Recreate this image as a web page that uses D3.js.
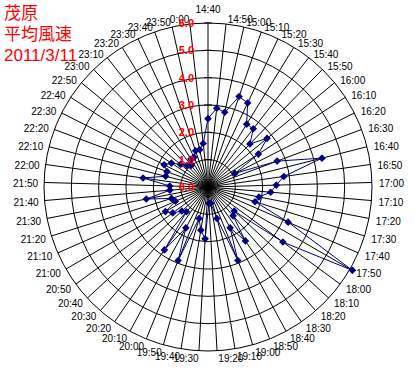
<!DOCTYPE html>
<html>
<head>
<meta charset="utf-8">
<script src="https://cdn.jsdelivr.net/npm/d3@7"></script>
<style>
  body { margin: 0; background: #fff; }
  svg { display: block; }
</style>
</head>
<body>
<div id="chart"></div>
<script>
// 10分ごとの時刻ラベル (14:40 → 0:00)
const times = [
  "14:40","14:50","15:00","15:10","15:20","15:30","15:40","15:50",
  "16:00","16:10","16:20","16:30","16:40","16:50","17:00","17:10",
  "17:20","17:30","17:40","17:50","18:00","18:10","18:20","18:30",
  "18:40","18:50","19:00","19:10","19:20","19:30","19:40","19:50",
  "20:00","20:10","20:20","20:30","20:40","20:50","21:00","21:10",
  "21:20","21:30","21:40","21:50","22:00","22:10","22:20","22:30",
  "22:40","22:50","23:00","23:10","23:20","23:30","23:40","23:50","0:00"
];
// 平均風速 (m/s)
const windSpeed = [
  2.5, 2.9, 2.8, 3.5, 3.4, 2.7, 2.7, 2.2,
  2.8, 2.2, 1.1, 2.7, 4.3, 2.8, 2.5, 2.3,
  1.9, 1.8, 3.2, 6.1, 3.4, 1.3, 1.4, 2.4,
  1.7, 2.9, 1.2, 0.6, 0.6, 1.9, 1.6, 1.2,
  2.9, 1.7, 2.8, 1.2, 1.3, 1.6, 1.8, 1.3,
  1.4, 2.3, 1.4, 1.4, 2.4, 1.6, 1.6, 1.8,
  1.6, 1.3, 1.1, 1.0, 1.2, 1.2, 1.4, 1.4, 1.6
];
const ringTicks = [0, 1, 2, 3, 4, 5, 6];
const titleLines = ["茂原", "平均風速", "2011/3/11"];

const width = 415, height = 370;
const cx = 208, cy = 187, R = 164;

const svg = d3.select("#chart").append("svg")
    .attr("width", width)
    .attr("height", height);

const r = d3.scaleLinear().domain([0, 6]).range([0, R]);
const angle = d3.scaleLinear().domain([0, times.length]).range([0, 2 * Math.PI]);

const g = svg.append("g").attr("transform", `translate(${cx},${cy})`);

// 放射線
g.selectAll("line.spoke")
  .data(times)
  .enter().append("line")
    .attr("class", "spoke")
    .attr("x1", 0).attr("y1", 0)
    .attr("x2", (d, i) => R * Math.sin(angle(i)))
    .attr("y2", (d, i) => -R * Math.cos(angle(i)))
    .attr("stroke", "#000")
    .attr("stroke-width", 1);

// 同心円
g.selectAll("circle.ring")
  .data(ringTicks.slice(1))
  .enter().append("circle")
    .attr("class", "ring")
    .attr("r", d => r(d))
    .attr("fill", "none")
    .attr("stroke", "#000")
    .attr("stroke-width", 1);

// 目盛り (十字)
g.selectAll("line.tick")
  .data(ringTicks.slice(1))
  .enter().append("line")
    .attr("x1", -4).attr("x2", 4)
    .attr("y1", d => -r(d)).attr("y2", d => -r(d))
    .attr("stroke", "#000");

// 時刻ラベル
g.selectAll("text.cat")
  .data(times)
  .enter().append("text")
    .attr("class", "cat")
    .each(function(d, i) {
      const a = angle(i), s = Math.sin(a), c = Math.cos(a);
      const t = d3.select(this);
      if (Math.abs(s) < 0.02) {
        t.attr("x", 0).attr("y", -R - 10).attr("text-anchor", "middle");
      } else {
        t.attr("x", (R + 6) * s + (s > 0 ? 1 : 0))
         .attr("y", -(R + 6) * c + 5)
         .attr("text-anchor", s > 0 ? "start" : "end");
      }
    })
    .attr("font-family", "Liberation Sans, Arial, sans-serif")
    .attr("font-size", 10)
    .attr("fill", "#000")
    .text(d => d);

// データ線
const line = d3.lineRadial()
    .angle((d, i) => angle(i))
    .radius(d => r(d))
    .curve(d3.curveLinearClosed);

g.append("path")
    .datum(windSpeed)
    .attr("d", line)
    .attr("fill", "none")
    .attr("stroke", "#000080")
    .attr("stroke-width", 1);

// ひし形マーカー
g.selectAll("path.mark")
  .data(windSpeed)
  .enter().append("path")
    .attr("class", "mark")
    .attr("transform", (d, i) =>
      `translate(${r(d) * Math.sin(angle(i))},${-r(d) * Math.cos(angle(i))})`)
    .attr("d", "M0,-3.8L3.8,0L0,3.8L-3.8,0Z")
    .attr("fill", "#000080");

// 目盛りラベル
g.selectAll("text.ring")
  .data(ringTicks)
  .enter().append("text")
    .attr("x", -14)
    .attr("y", d => -r(d) + 4)
    .attr("text-anchor", "end")
    .attr("font-family", "Liberation Sans, Arial, sans-serif")
    .attr("font-size", 11)
    .attr("font-weight", "bold")
    .attr("fill", "#ff0000")
    .text(d => d.toFixed(1));

// タイトル
svg.selectAll("text.title")
  .data(titleLines)
  .enter().append("text")
    .attr("x", 4)
    .attr("y", (d, i) => 19 + i * 21)
    .attr("font-family", "Liberation Sans, Noto Sans CJK JP, sans-serif")
    .attr("font-size", 17)
    .attr("fill", "#ff0000")
    .text(d => d);
</script>
</body>
</html>
